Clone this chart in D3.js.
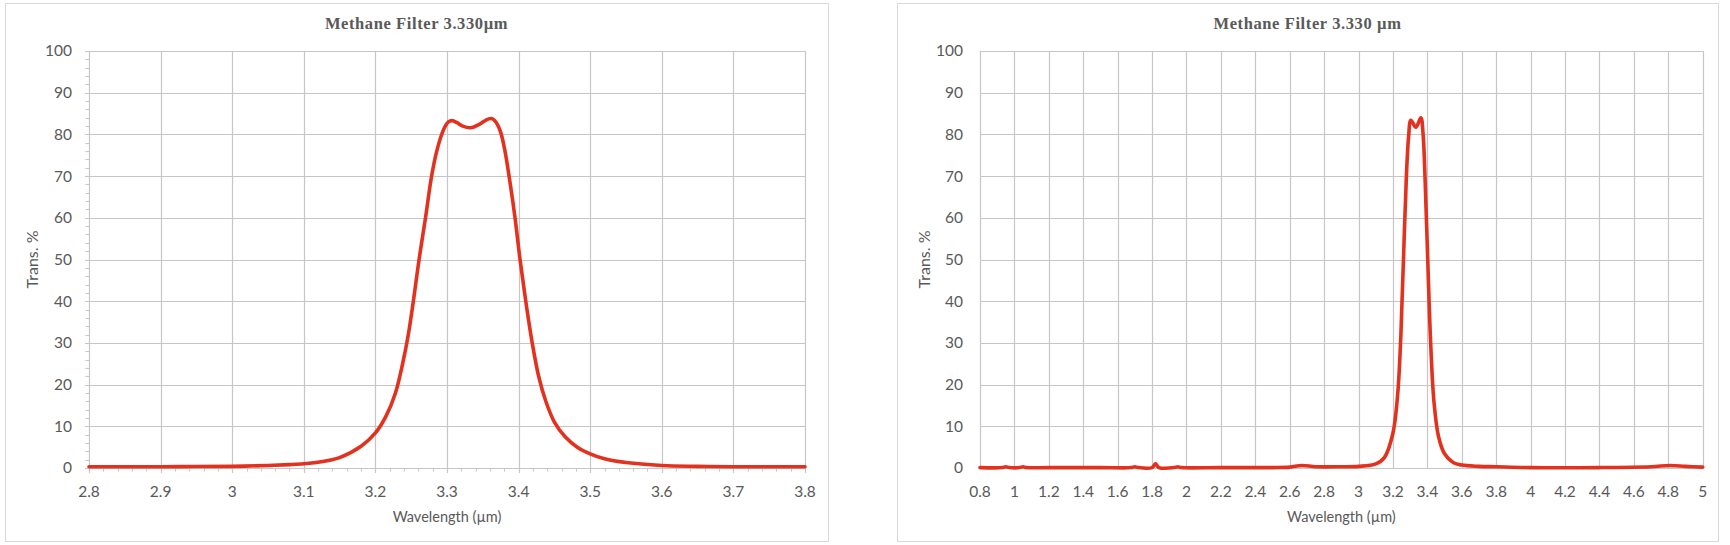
<!DOCTYPE html>
<html>
<head>
<meta charset="utf-8">
<script src="https://cdn.jsdelivr.net/npm/d3@7"></script>
<style>
  html, body { margin: 0; padding: 0; background: #ffffff; }
  svg { display: block; }
</style>
</head>
<body>
<svg id="chart" width="1730" height="545"></svg>
<script>
// ---------- DATA ----------
const leftTitle = "Methane Filter 3.330µm";
const rightTitle = "Methane Filter 3.330 µm";
const xAxisTitle = "Wavelength (µm)";
const yAxisTitle = "Trans. %";

const leftWavelength = [2.80, 2.85, 2.90, 2.95, 3.00, 3.05, 3.08, 3.10, 3.12, 3.15, 3.18, 3.20, 3.215, 3.228, 3.238, 3.246, 3.253, 3.261, 3.270, 3.278, 3.285, 3.291, 3.297, 3.302, 3.307, 3.314, 3.322, 3.333, 3.345, 3.355, 3.361, 3.364, 3.369, 3.375, 3.381, 3.388, 3.395, 3.402, 3.410, 3.419, 3.428, 3.438, 3.450, 3.465, 3.482, 3.500, 3.520, 3.550, 3.600, 3.650, 3.700, 3.800];
const leftTransmission = [0.3, 0.3, 0.3, 0.35, 0.4, 0.6, 0.8, 1.0, 1.4, 2.5, 5.2, 8.4, 12.5, 18, 25, 32, 40, 50, 60, 69.5, 75.5, 79.2, 81.8, 83.0, 83.3, 82.8, 82.0, 81.6, 82.4, 83.5, 83.8, 83.7, 82.8, 80.5, 76, 68.5, 60, 50, 40, 30, 22, 16, 11, 7.5, 5.0, 3.4, 2.2, 1.3, 0.6, 0.4, 0.3, 0.3];

const rightWavelength = [0.80, 0.93, 0.95, 0.97, 1.03, 1.05, 1.07, 1.20, 1.50, 1.68, 1.70, 1.72, 1.80, 1.82, 1.84, 1.93, 1.95, 1.97, 2.20, 2.50, 2.60, 2.67, 2.75, 2.90, 3.00, 3.10, 3.15, 3.20, 3.228, 3.246, 3.261, 3.278, 3.291, 3.304, 3.333, 3.362, 3.375, 3.386, 3.402, 3.419, 3.438, 3.465, 3.500, 3.550, 3.600, 3.700, 3.800, 4.000, 4.400, 4.700, 4.810, 4.900, 5.000];
const rightTransmission = [0.1, 0.1, 0.3, 0.1, 0.1, 0.3, 0.1, 0.1, 0.1, 0.1, 0.3, 0.1, 0.1, 1.0, 0.1, 0.1, 0.3, 0.1, 0.1, 0.1, 0.2, 0.6, 0.3, 0.3, 0.4, 1.0, 2.5, 8.4, 18, 32, 50, 70, 79.5, 83.4, 81.7, 84.0, 80, 70, 50, 30, 16, 7.5, 3.4, 1.3, 0.7, 0.4, 0.3, 0.1, 0.1, 0.3, 0.6, 0.4, 0.2];

const yTicks = [0, 10, 20, 30, 40, 50, 60, 70, 80, 90, 100];
const leftXTicks = [2.8, 2.9, 3.0, 3.1, 3.2, 3.3, 3.4, 3.5, 3.6, 3.7, 3.8];
const rightXTicks = [0.8, 1.0, 1.2, 1.4, 1.6, 1.8, 2.0, 2.2, 2.4, 2.6, 2.8, 3.0, 3.2, 3.4, 3.6, 3.8, 4.0, 4.2, 4.4, 4.6, 4.8, 5.0];
const leftMinorX = d3.range(2.8, 3.8001, 0.02);
const leftMinorY = d3.range(0, 100.001, 2);

// ---------- DRAW ----------
const svg = d3.select("#chart");
const textColor = "#595959";
const gridColor = "#c6c6c6";
const lineColor = "#e2321f";
const labelFont = "Lato, 'Open Sans', sans-serif";

function fmt(v) { return String(+v.toFixed(2)); }

function drawChart(cfg) {
  const g = svg.append("g");
  // frame
  g.append("rect")
    .attr("x", cfg.frame[0] + 0.5).attr("y", cfg.frame[1] + 0.5)
    .attr("width", cfg.frame[2] - cfg.frame[0]).attr("height", cfg.frame[3] - cfg.frame[1])
    .attr("fill", "#fff").attr("stroke", "#d9d9d9").attr("stroke-width", 1);

  const x = d3.scaleLinear().domain(cfg.xDomain).range([cfg.plot[0], cfg.plot[1]]);
  const y = d3.scaleLinear().domain([0, 100]).range([cfg.plot[3], cfg.plot[2]]);

  // horizontal grid
  g.append("g").selectAll("line").data(yTicks).join("line")
    .attr("x1", x(cfg.xDomain[0]) - (cfg.minor ? 4 : 0)).attr("x2", x(cfg.xDomain[1]))
    .attr("y1", d => Math.round(y(d)) + 0.5).attr("y2", d => Math.round(y(d)) + 0.5)
    .attr("stroke", gridColor).attr("stroke-width", 1.2);
  // vertical grid
  g.append("g").selectAll("line").data(cfg.xTicks).join("line")
    .attr("x1", d => Math.round(x(d)) + 0.5).attr("x2", d => Math.round(x(d)) + 0.5)
    .attr("y1", y(100)).attr("y2", y(0) + (cfg.minor ? 5 : 0))
    .attr("stroke", gridColor).attr("stroke-width", 1.2);

  if (cfg.minor) {
    g.append("g").selectAll("line").data(cfg.minorX).join("line")
      .attr("x1", d => Math.round(x(d)) + 0.5).attr("x2", d => Math.round(x(d)) + 0.5)
      .attr("y1", y(0)).attr("y2", y(0) + 3.5)
      .attr("stroke", gridColor).attr("stroke-width", 1);
    g.append("g").selectAll("line").data(cfg.minorY).join("line")
      .attr("x1", x(cfg.xDomain[0]) - 3.5).attr("x2", x(cfg.xDomain[0]))
      .attr("y1", d => Math.round(y(d)) + 0.5).attr("y2", d => Math.round(y(d)) + 0.5)
      .attr("stroke", gridColor).attr("stroke-width", 1);
  }

  // y tick labels
  g.append("g").selectAll("text").data(yTicks).join("text")
    .attr("x", x(cfg.xDomain[0]) - 17).attr("y", d => y(d))
    .attr("dy", "0.35em").attr("text-anchor", "end")
    .attr("font-family", labelFont).attr("font-size", 15.5).attr("fill", textColor)
    .text(d => d);
  // x tick labels
  g.append("g").selectAll("text").data(cfg.xTicks).join("text")
    .attr("x", d => x(d)).attr("y", y(0) + 24)
    .attr("dy", "0.35em").attr("text-anchor", "middle")
    .attr("font-family", labelFont).attr("font-size", 15.5).attr("fill", textColor)
    .text(d => fmt(d));

  // axis titles
  g.append("text")
    .attr("x", (cfg.plot[0] + cfg.plot[1]) / 2).attr("y", y(0) + 49)
    .attr("dy", "0.35em").attr("text-anchor", "middle")
    .attr("font-family", labelFont).attr("font-size", 14.5).attr("fill", textColor)
    .text(xAxisTitle);
  g.append("text")
    .attr("transform", `translate(${cfg.frame[0] + 27},${(cfg.plot[2] + cfg.plot[3]) / 2}) rotate(-90)`)
    .attr("dy", "0.35em").attr("text-anchor", "middle")
    .attr("font-family", labelFont).attr("font-size", 16).attr("fill", textColor)
    .text(yAxisTitle);

  // chart title
  g.append("text")
    .attr("x", (cfg.frame[0] + cfg.frame[2]) / 2).attr("y", 28.5)
    .attr("text-anchor", "middle")
    .attr("font-family", "'Liberation Serif', 'Times New Roman', serif")
    .attr("font-weight", "bold").attr("font-size", 16.5)
    .attr("letter-spacing", "0.6px").attr("fill", textColor)
    .text(cfg.title);

  // data line
  const pts = cfg.xs.map((v, i) => [v, cfg.ys[i]]);
  const line = d3.line().x(d => x(d[0])).y(d => y(d[1])).curve(d3.curveCatmullRom.alpha(0.5));
  g.append("path").datum(pts)
    .attr("d", line).attr("fill", "none")
    .attr("stroke", lineColor).attr("stroke-width", 3.6)
    .attr("stroke-linejoin", "round").attr("stroke-linecap", "round");
}

drawChart({
  frame: [5, 3, 828, 541],
  plot: [89, 805, 51, 468],
  xDomain: [2.8, 3.8],
  xTicks: leftXTicks,
  minor: true,
  minorX: leftMinorX,
  minorY: leftMinorY,
  title: leftTitle,
  xs: leftWavelength,
  ys: leftTransmission
});

drawChart({
  frame: [897, 3, 1718, 541],
  plot: [980, 1702.7, 51, 468],
  xDomain: [0.8, 5.0],
  xTicks: rightXTicks,
  minor: false,
  title: rightTitle,
  xs: rightWavelength,
  ys: rightTransmission
});
</script>
</body>
</html>
